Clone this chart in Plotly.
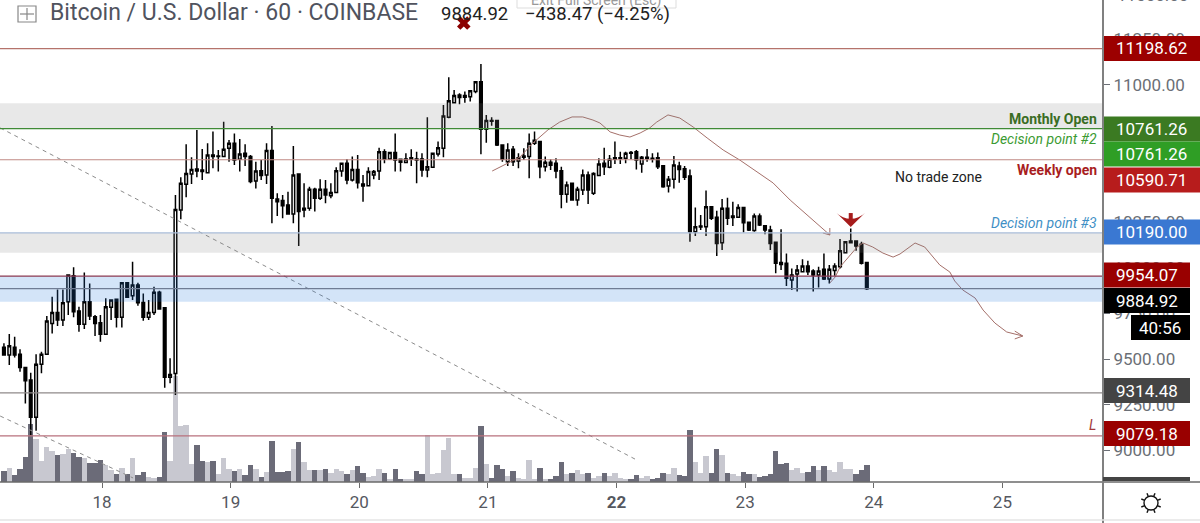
"""
Bitcoin / U.S. Dollar 60 minute chart with drawn levels, zones and forecast paths
"""

import math

import pandas as pd
import plotly.graph_objects as go

# Hourly candles
opens = [9564, 9522, 9564, 9526, 9454, 9385, 9181, 9471, 9526, 9695,
         9754, 9713, 9814, 9956, 9763, 9690, 9814, 9732, 9699, 9635,
         9783, 9827, 9728, 9918, 9847, 9905, 9810, 9728, 9754, 9865,
         9781, 9400, 9421, 10316, 10456, 10513, 10540, 10535, 10520, 10617,
         10608, 10608, 10653, 10681, 10593, 10626, 10608, 10475, 10531, 10507,
         10641, 10376, 10367, 10343, 10294, 10513, 10316, 10325, 10429, 10380,
         10429, 10394, 10411, 10529, 10571, 10480, 10538, 10458, 10449, 10507,
         10529, 10635, 10595, 10631, 10593, 10575, 10593, 10595, 10595, 10535,
         10549, 10622, 10653, 10823, 10903, 10945, 10933, 10936, 10964, 11018,
         10757, 10805, 10805, 10672, 10580, 10648, 10584, 10604, 10608, 10681,
         10690, 10553, 10577, 10571, 10531, 10402, 10462, 10370, 10425, 10507,
         10407, 10504, 10571, 10549, 10593, 10597, 10599, 10631, 10635, 10568,
         10597, 10599, 10602, 10558, 10447, 10484, 10557, 10542, 10502, 10197,
         10223, 10224, 10334, 10276, 10137, 10325, 10274, 10276, 10329, 10248,
         10203, 10283, 10230, 10206, 10139, 10029, 10024, 9932, 9965, 9978,
         10009, 9982, 9960, 9991, 9938, 9984, 10005, 10082, 10137, 10146,
         10128, 10029]
highs = [9586, 9637, 9622, 9553, 9458, 9425, 9526, 9540, 9735, 9841,
         9881, 9881, 9960, 10002, 9786, 9973, 9914, 9741, 9741, 9832,
         9827, 9827, 9918, 9918, 10033, 9918, 9859, 9823, 9896, 9874,
         9781, 9504, 10398, 10495, 10675, 10604, 10754, 10650, 10681, 10745,
         10644, 10799, 10699, 10735, 10704, 10675, 10617, 10580, 10589, 10681,
         10776, 10407, 10398, 10416, 10666, 10516, 10462, 10443, 10438, 10484,
         10480, 10462, 10549, 10571, 10595, 10608, 10617, 10507, 10549, 10535,
         10657, 10648, 10635, 10735, 10595, 10626, 10648, 10635, 10626, 10823,
         10626, 10690, 10891, 11042, 10973, 10954, 10964, 10973, 11018, 11115,
         10836, 10823, 10808, 10672, 10681, 10666, 10626, 10653, 10735, 10745,
         10690, 10608, 10593, 10599, 10553, 10471, 10462, 10443, 10538, 10526,
         10522, 10599, 10657, 10617, 10690, 10635, 10635, 10639, 10644, 10611,
         10650, 10626, 10630, 10562, 10502, 10611, 10580, 10557, 10538, 10329,
         10288, 10422, 10334, 10312, 10376, 10383, 10361, 10347, 10329, 10252,
         10297, 10297, 10234, 10230, 10142, 10210, 10078, 9996, 10015, 10046,
         10038, 9991, 10005, 10078, 10015, 10024, 10157, 10146, 10215, 10148,
         10142, 10029]
lows = [9518, 9467, 9509, 9431, 9257, 9084, 9108, 9422, 9522, 9640,
        9681, 9681, 9741, 9728, 9650, 9664, 9713, 9626, 9595, 9635,
        9713, 9672, 9672, 9838, 9823, 9792, 9710, 9713, 9741, 9772,
        9343, 9367, 9303, 10265, 10385, 10458, 10495, 10480, 10516, 10544,
        10526, 10608, 10580, 10562, 10526, 10557, 10462, 10434, 10480, 10458,
        10243, 10283, 10270, 10294, 10243, 10119, 10276, 10312, 10307, 10370,
        10352, 10380, 10411, 10498, 10456, 10471, 10434, 10361, 10447, 10484,
        10480, 10571, 10589, 10526, 10526, 10571, 10557, 10462, 10498, 10495,
        10549, 10608, 10604, 10818, 10903, 10894, 10903, 10909, 10954, 10621,
        10684, 10777, 10666, 10580, 10557, 10557, 10544, 10589, 10489, 10672,
        10489, 10526, 10535, 10489, 10325, 10356, 10370, 10339, 10398, 10349,
        10398, 10504, 10507, 10544, 10568, 10568, 10571, 10593, 10538, 10520,
        10580, 10575, 10540, 10438, 10411, 10434, 10465, 10480, 10142, 10173,
        10206, 10173, 10261, 10064, 10097, 10234, 10228, 10276, 10192, 10201,
        10197, 10228, 10183, 10097, 9969, 9987, 9900, 9878, 9869, 9973,
        9960, 9869, 9892, 9932, 9914, 9956, 9996, 10082, 10133, 10093,
        10018, 9878]
closes = [9522, 9573, 9522, 9453, 9381, 9181, 9471, 9526, 9708, 9754,
          9713, 9808, 9960, 9759, 9690, 9814, 9735, 9695, 9635, 9786,
          9823, 9728, 9918, 9838, 9905, 9808, 9728, 9754, 9865, 9774,
          9400, 9416, 10319, 10462, 10516, 10538, 10529, 10526, 10617, 10608,
          10611, 10648, 10681, 10589, 10622, 10608, 10471, 10529, 10504, 10641,
          10380, 10361, 10339, 10294, 10507, 10307, 10325, 10429, 10380, 10429,
          10398, 10412, 10531, 10571, 10480, 10538, 10465, 10447, 10526, 10526,
          10635, 10593, 10631, 10589, 10577, 10595, 10602, 10589, 10535, 10553,
          10626, 10657, 10830, 10914, 10942, 10931, 10942, 10969, 11018, 10757,
          10805, 10801, 10672, 10593, 10644, 10580, 10602, 10611, 10681, 10697,
          10553, 10577, 10560, 10529, 10402, 10453, 10370, 10429, 10507, 10425,
          10516, 10568, 10553, 10593, 10602, 10602, 10626, 10626, 10589, 10604,
          10604, 10593, 10553, 10443, 10484, 10562, 10538, 10495, 10197, 10224,
          10228, 10334, 10270, 10133, 10325, 10270, 10283, 10329, 10246, 10206,
          10283, 10234, 10206, 10133, 10024, 10018, 9942, 9960, 9987, 10009,
          9978, 9960, 9982, 9938, 9991, 10009, 10093, 10142, 10146, 10119,
          10024, 9885]
volumes = [11, 14, 7, 13, 25, 58, 43, 21, 35, 31,
           27, 28, 33, 29, 25, 24, 19, 19, 22, 17,
           12, 8, 14, 8, 24, 7, 10, 5, 4, 5,
           50, 21, 106, 56, 57, 18, 37, 21, 20, 21,
           8, 24, 13, 11, 13, 7, 17, 13, 5, 10,
           41, 10, 10, 11, 33, 40, 20, 12, 12, 12,
           13, 9, 13, 11, 8, 12, 16, 9, 5, 6,
           13, 9, 3, 13, 3, 3, 3, 11, 8, 47,
           8, 9, 32, 44, 8, 8, 4, 4, 14, 56,
           18, 4, 17, 13, 6, 11, 4, 3, 22, 3,
           14, 3, 3, 6, 20, 8, 9, 12, 8, 9,
           4, 6, 9, 6, 9, 4, 3, 3, 7, 4,
           6, 3, 4, 9, 8, 14, 7, 6, 52, 20,
           9, 26, 9, 33, 27, 9, 8, 6, 10, 8,
           8, 5, 6, 8, 31, 18, 19, 12, 14, 9,
           10, 16, 12, 16, 12, 10, 20, 13, 13, 8,
           12, 17]

# Day ticks
day_ticks = ["2019-07-18", "2019-07-19", "2019-07-20", "2019-07-21",
             "2019-07-22", "2019-07-23", "2019-07-24", "2019-07-25"]
day_labels = ["18", "19", "20", "21", "<b>22</b>", "23", "24", "25"]
price_ticks = [9000, 9250, 9500, 9750, 10000, 10250, 10500, 10750, 11000, 11250]

# Horizontal levels and zones
levels = [11198.62, 10761.26, 10590.71, 10190.00, 9954.07, 9884.92, 9314.48, 9079.18]
level_colors = ["#b5736b", "#3f8a36", "#c08a84", "#a9bcd8", "#8d3a52", "#6f7c94", "#8f8a8a", "#b8707c"]
zones_low = [10761, 10082, 9814]
zones_high = [10900, 10190, 9954]
zone_colors = ["rgba(128,128,128,0.18)", "rgba(128,128,128,0.18)", "rgba(33,120,220,0.20)"]

# Hand drawn paths, hours after 18th 00:00 and price
curve1_hours = [72.8, 74.8, 78.0, 80.4, 83.2, 85.4, 87.7, 89.7, 91.6, 92.9, 94.8, 96.6, 98.5, 100.4,
                102.2, 103.5, 105.6, 107.8, 110.3, 112.9, 115.9, 119.0, 122.2, 125.2, 128.4, 131.5, 134.0, 135.8]
curve1_price = [10529, 10557, 10606, 10682, 10754, 10797, 10825, 10825, 10808, 10792, 10743, 10726, 10715, 10737,
                10765, 10797, 10836, 10819, 10770, 10710, 10644, 10589, 10524, 10464, 10370, 10288, 10223, 10179]
head1_hours = [134.5, 135.8, 135.8]
head1_price = [10190, 10179, 10217]
curve2_hours = [135.8, 136.8, 137.7, 139.2, 140.9, 142.0, 143.8, 145.7, 147.6, 148.9, 151.7,
                153.5, 156.3, 158.2, 159.1, 160.6, 162.9, 164.4, 166.6, 168.8, 171.8]
curve2_price = [9916, 9949, 10004, 10058, 10113, 10135, 10113, 10080, 10058, 10075, 10135,
                10113, 10015, 9976, 9927, 9878, 9834, 9768, 9697, 9648, 9626]
head2_hours = [170.3, 171.8, 170.3]
head2_price = [9653, 9626, 9610]
trend1_hours = [-19.0, 99.8]
trend1_price = [10765, 8947]
trend2_hours = [-19.0, 5.8]
trend2_price = [9188, 8849]

W, H = 1200, 523
PLOT_W, PLOT_H = 1103, 482


def px(x):
    return x / PLOT_W


def py(y):
    return 1 - y / PLOT_H


def hours_to_time(hours):
    return pd.Timestamp("2019-07-18") + pd.to_timedelta(hours, unit="h")


def add_text(text, x, y, color, size=17, anchor="center", family="Roboto"):
    fig.add_annotation(text=text, xref="paper", yref="paper", x=px(x), y=py(y), xanchor=anchor, yanchor="middle",
                       showarrow=False, font=dict(family=family, size=size, color=color))


def add_rule(x0, y0, x1, y1, color, width):
    fig.add_shape(type="line", xref="paper", yref="paper", x0=px(x0), x1=px(x1), y0=py(y0), y1=py(y1),
                  line=dict(color=color, width=width), layer="above")


times = pd.date_range("2019-07-17 05:42", periods=len(opens), freq="h")
vol_colors = ["#c8c8d0" if c >= o else "#6b6b78" for o, c in zip(opens, closes)]

fig = go.Figure()
fig.add_trace(go.Bar(x=times, y=volumes, marker_color=vol_colors, marker_line_width=0,
                     width=3600000, yaxis="y"))

for hrs, prices in [(trend1_hours, trend1_price), (trend2_hours, trend2_price)]:
    fig.add_trace(go.Scatter(x=hours_to_time(hrs), y=prices, mode="lines", yaxis="y2",
                             line=dict(color="#8c8c8c", width=1, dash="4px,4px")))

fig.add_trace(go.Candlestick(
    x=times, open=opens, high=highs, low=lows, close=closes, yaxis="y2",
    whiskerwidth=0, increasing=dict(line=dict(color="#000000", width=1.5), fillcolor="#ffffff"),
    decreasing=dict(line=dict(color="#000000", width=1.5), fillcolor="#000000"),
))

for hrs, prices in [(curve1_hours, curve1_price), (head1_hours, head1_price),
                    (curve2_hours, curve2_price), (head2_hours, head2_price)]:
    fig.add_trace(go.Scatter(x=hours_to_time(hrs), y=prices, mode="lines", yaxis="y2",
                             line=dict(color="#a5706a", width=1)))

# Red arrow over the swing high, red cross on the top
fig.add_trace(go.Scatter(x=hours_to_time([139.7, 139.7]), y=[10299, 10239], mode="lines", yaxis="y2",
                         line=dict(color="#a61c1c", width=4)))
fig.add_trace(go.Scatter(x=hours_to_time([139.7]), y=[10222], mode="markers", yaxis="y2",
                         marker=dict(symbol="arrow-wide", angle=180, size=20, color="#a61c1c", line_width=0)))
fig.add_trace(go.Scatter(x=hours_to_time([67.5]), y=[11339], mode="markers", yaxis="y2",
                         marker=dict(symbol="x", size=12, color="#8b0000", line_width=0)))

# Zones and levels
for low, high, color in zip(zones_low, zones_high, zone_colors):
    fig.add_shape(type="rect", xref="paper", yref="y2", x0=0, x1=px(1102), y0=low, y1=high,
                  fillcolor=color, line_width=0, layer="above")
for level, color in zip(levels, level_colors):
    fig.add_shape(type="line", xref="paper", yref="y2", x0=0, x1=px(1102), y0=level, y1=level,
                  line=dict(color=color, width=1.2), layer="above")

# Frame lines running past the plot
add_rule(0, 482, 1200, 482, "#6a6a6a", 1.5)
add_rule(1103, 0, 1103, 523, "#808080", 2)
add_rule(0, 520, 1200, 520, "#e5e5e5", 1.5)
add_rule(1103, 479, 1190, 479, "#444444", 4)

# Top tick that falls off the plot
add_text("11500.00", 1152, -5, "#6b6f76")

# Price tags on the axis
tags = [("11198.62", 48.5, "#9c0000", 1200), ("10761.26", 129, "#3b7a22", 1200), ("10761.26", 154, "#2f9e25", 1200),
        ("10590.71", 180, "#b71c1c", 1200), ("10190.00", 232, "#3a78d2", 1200), ("9954.07", 275, "#990000", 1190),
        ("9884.92", 300.5, "#000000", 1190), ("9314.48", 390.5, "#444444", 1190), ("9079.18", 433.5, "#990000", 1190)]
for text, center, color, right in tags:
    fig.add_shape(type="rect", xref="paper", yref="paper", x0=px(1104), x1=px(right),
                  y0=py(center - 12.5), y1=py(center + 12.5), fillcolor=color, line_width=0, layer="above")
    add_text(text, (1103 + right) / 2, center, "#ffffff")
fig.add_shape(type="rect", xref="paper", yref="paper", x0=px(1131), x1=px(1190), y0=py(315), y1=py(340),
              fillcolor="#000000", line_width=0, layer="above")
add_text("40:56", 1160, 327.5, "#ffffff")

# Drawing labels
add_text("<b>Monthly Open</b>", 1099, 119, "#3a6d24", 14, "right")
add_text("<i>Decision point #2</i>", 1099, 139, "#3b9b32", 14, "right")
add_text("<b>Weekly open</b>", 1099, 170, "#a81e22", 14, "right")
add_text("<i>Decision point #3</i>", 1099, 223, "#3f8fc5", 14, "right")
add_text("<i>L</i>", 1098, 425, "#a33a3a", 14, "right")
add_text("No trade zone", 893, 177, "#222222", 14, "left")

# Header strip
fig.add_shape(type="rect", xref="paper", yref="paper", x0=px(517), x1=px(676), y0=py(-10), y1=py(8),
              fillcolor="#ffffff", line=dict(color="#dddddd", width=1), layer="above")
add_text("Exit Full Screen (Esc)", 596, 1, "#999999", 14)
add_text("Bitcoin / U.S. Dollar · 60 · COINBASE", 48, 12, "#50535e", 23, "left")
add_text("9884.92", 439, 14, "#222222", 18.5, "left")
add_text("−438.47 (−4.25%)", 523, 14, "#222222", 18.5, "left")
fig.add_shape(type="rect", xref="paper", yref="paper", x0=px(18), x1=px(36), y0=py(6), y1=py(22),
              line=dict(color="#888888", width=1.2), layer="above")
add_rule(27, 8, 27, 20, "#888888", 1.2)
add_rule(20, 14, 34, 14, "#888888", 1.2)

# Settings icon
fig.add_shape(type="circle", xref="paper", yref="paper", x0=px(1144), x1=px(1158), y0=py(496), y1=py(510),
              line=dict(color="#111111", width=1.4), layer="above")
for step in range(8):
    angle = math.radians(22.5 + step * 45)
    add_rule(1151 + 7.5 * math.cos(angle), 503 + 7.5 * math.sin(angle),
             1151 + 10.5 * math.cos(angle), 503 + 10.5 * math.sin(angle), "#111111", 1.4)

fig.update_layout(
    width=W, height=H, margin=dict(l=0, r=W - PLOT_W, t=0, b=H - PLOT_H),
    paper_bgcolor="#ffffff", plot_bgcolor="#ffffff", showlegend=False, bargap=0,
    xaxis=dict(type="date", range=["2019-07-17 04:58", "2019-07-25 18:46"], rangeslider=dict(visible=False),
               tickvals=day_ticks, ticktext=day_labels, ticks="outside", ticklen=5, tickcolor="#6a6a6a",
               tickfont=dict(family="Roboto", size=17, color="#55585f"), showgrid=False, zeroline=False),
    yaxis=dict(range=[0, PLOT_H], visible=False, fixedrange=True),
    yaxis2=dict(range=[8827, 11465], overlaying="y", side="right", tickvals=price_ticks,
                ticktext=[f"{t:.2f}" for t in price_ticks], ticks="outside", ticklen=6, tickcolor="#6b6f76",
                tickfont=dict(family="Roboto", size=17, color="#6b6f76"), showgrid=False, zeroline=False),
)

# Page margin off so the figure fills the window
fig.write_html("out.html", config=dict(displayModeBar=False), post_script="document.body.style.margin='0';")
